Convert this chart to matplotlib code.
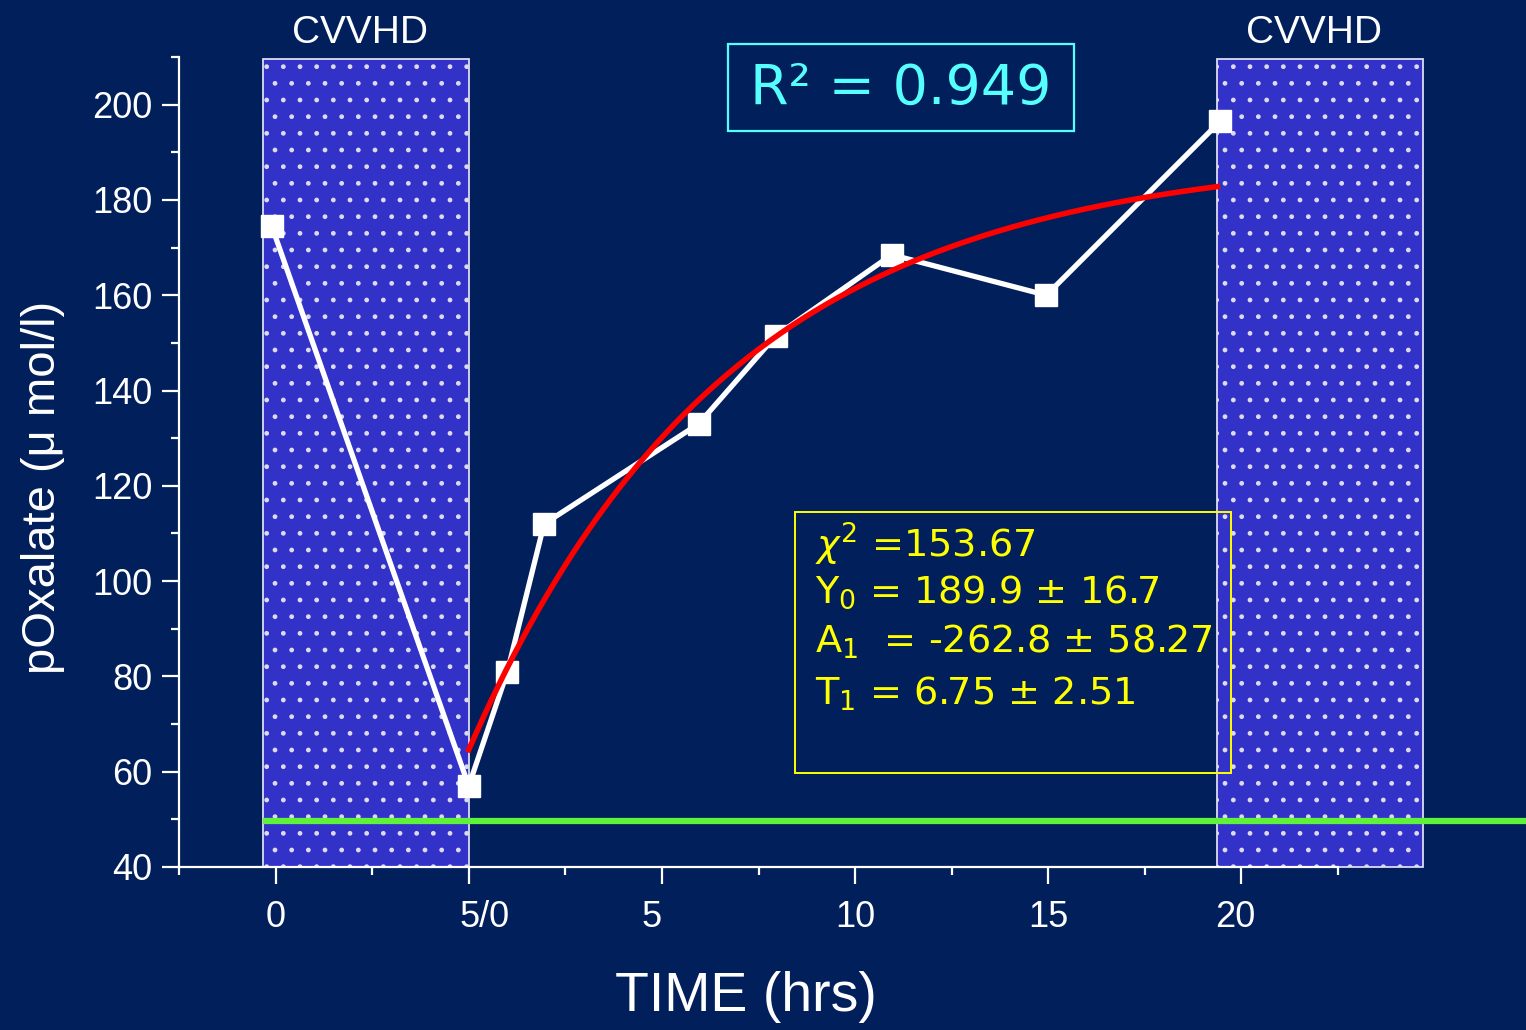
import numpy as np
import matplotlib
matplotlib.use("Agg")
import matplotlib.pyplot as plt
from matplotlib.patches import Rectangle
from matplotlib.transforms import ScaledTranslation

# ---------------- data ----------------
# x positions: 0..5 = first dialysis run, then the off-dialysis hours start again at 5/0
time_pos = [-0.1, 5.0, 6.0, 6.95, 10.95, 12.95, 15.95, 19.95, 24.45]
oxalate = [174.5, 57.0, 81.0, 112.0, 133.0, 151.5, 168.5, 160.0, 196.5]

# exponential fit shown in the box
Y0, A1, T1 = 189.9, -262.8, 6.75
CHI2 = 153.67
R2 = 0.949

# CVVHD periods (x start, x end)
cvvhd_1 = (-0.33, 5.0)
cvvhd_2 = (24.38, 29.7)
box_top = 209.5

# reference level (green line)
LIMIT = 49.7

xticks = [0, 5, 10, 15, 20, 25]
xticklabels = ["0", "5/0", "5", "10", "15", "20"]
xlabel_shift_px = [0, 16, -10, 0, 0, -6]

BG = "#011f5b"
W, H = 1526, 1030

plt.rcParams["font.family"] = ["Liberation Sans", "DejaVu Sans"]
plt.rcParams["mathtext.fontset"] = "dejavusans"
plt.rcParams["hatch.color"] = "#e8e8ff"
plt.rcParams["hatch.linewidth"] = 1.0

fig = plt.figure(figsize=(W / 100, H / 100), dpi=100, facecolor=BG)
ax = fig.add_axes([179 / W, 1 - 867 / H, (1338 - 179) / W, (867 - 57) / H])
ax.set_facecolor(BG)
ax.set_xlim(-2.5, 27.5)
ax.set_ylim(40, 210)


def px(x, y):
    return x / W, 1 - y / H


# shaded dialysis blocks
for x0, x1 in (cvvhd_1, cvvhd_2):
    ax.add_patch(Rectangle((x0, 40), x1 - x0, box_top - 40,
                           facecolor="#3232c8", edgecolor="#dcdcf0",
                           hatch=".", linewidth=1.3, zorder=1, clip_on=False))
    ax.text((x0 + x1) / 2 - 0.15, 215.0, "CVVHD", color="white", fontsize=28,
            ha="center", va="center", clip_on=False)

# green reference line running to the right edge of the figure
x_edge = ax.transData.inverted().transform((fig.bbox.width, 0))[0]
ax.plot([cvvhd_1[0], x_edge], [LIMIT, LIMIT], color="#5ef23a", lw=4.5,
        clip_on=False, zorder=3, solid_capstyle="butt")

# measured values
ax.plot(time_pos, oxalate, color="white", lw=3.8, marker="s", ms=15.5,
        mfc="white", mec="white", zorder=4, clip_on=False)

# fitted curve
xf = np.linspace(cvvhd_1[1], cvvhd_2[0], 200)
ax.plot(xf, Y0 + A1 * np.exp(-xf / T1), color="#ff0000", lw=4, zorder=5)

ax.set_xticks(xticks)
ax.set_xticklabels(xticklabels)
ax.set_xticks(np.arange(-2.5, 27.6, 2.5), minor=True)
ax.set_yticks(np.arange(40, 201, 20))
ax.set_yticks(np.arange(40, 211, 10), minor=True)

for sp in ("top", "right"):
    ax.spines[sp].set_visible(False)
for sp in ("left", "bottom"):
    ax.spines[sp].set_color("white")
    ax.spines[sp].set_linewidth(1.6)

ax.tick_params(which="major", length=12, width=1.6, color="white",
               labelcolor="white", labelsize=26, direction="out")
ax.tick_params(which="minor", length=6, width=1.6, color="white", direction="out")
ax.tick_params(axis="x", which="major", pad=12)
ax.tick_params(axis="y", which="major", pad=7)

for lab, dx in zip(ax.get_xticklabels(), xlabel_shift_px):
    lab.set_transform(lab.get_transform() + ScaledTranslation(dx / 100, 0, fig.dpi_scale_trans))

fig.text(*px(746, 997), "TIME (hrs)", color="white", fontsize=40,
         ha="center", va="center")
fig.text(*px(43, 487), "pOxalate (\u03bc mol/l)", color="white", fontsize=34,
         ha="center", va="center", rotation=90)

# R^2 box
fig.patches.append(Rectangle(px(728, 131), (1074 - 728) / W, (131 - 44) / H,
                             transform=fig.transFigure, fill=False,
                             edgecolor="#55ffff", lw=1.6))
fig.text(*px(901, 89), f"R\u00b2 = {R2:.3f}", color="#55ffff", fontsize=40,
         ha="center", va="center", family="DejaVu Sans")

# fit parameter box
fig.patches.append(Rectangle(px(795, 773), (1231 - 795) / W, (773 - 512) / H,
                             transform=fig.transFigure, fill=False,
                             edgecolor="#ffff00", lw=1.4))
fit_lines = [
    (558, r"$\chi^2$ =" + f"{CHI2:.2f}"),
    (603, r"$\mathrm{Y}_0$ = " + f"{Y0} \u00b1 16.7"),
    (653, r"$\mathrm{A}_1$  = " + f"{A1} \u00b1 58.27"),
    (705, r"$\mathrm{T}_1$ = " + f"{T1} \u00b1 2.51"),
]
for yb, s in fit_lines:
    fig.text(*px(815, yb), s, color="#ffff00", fontsize=27.5,
             ha="left", va="baseline", family="DejaVu Sans")

fig.savefig("out.png", dpi=100, facecolor=BG)
